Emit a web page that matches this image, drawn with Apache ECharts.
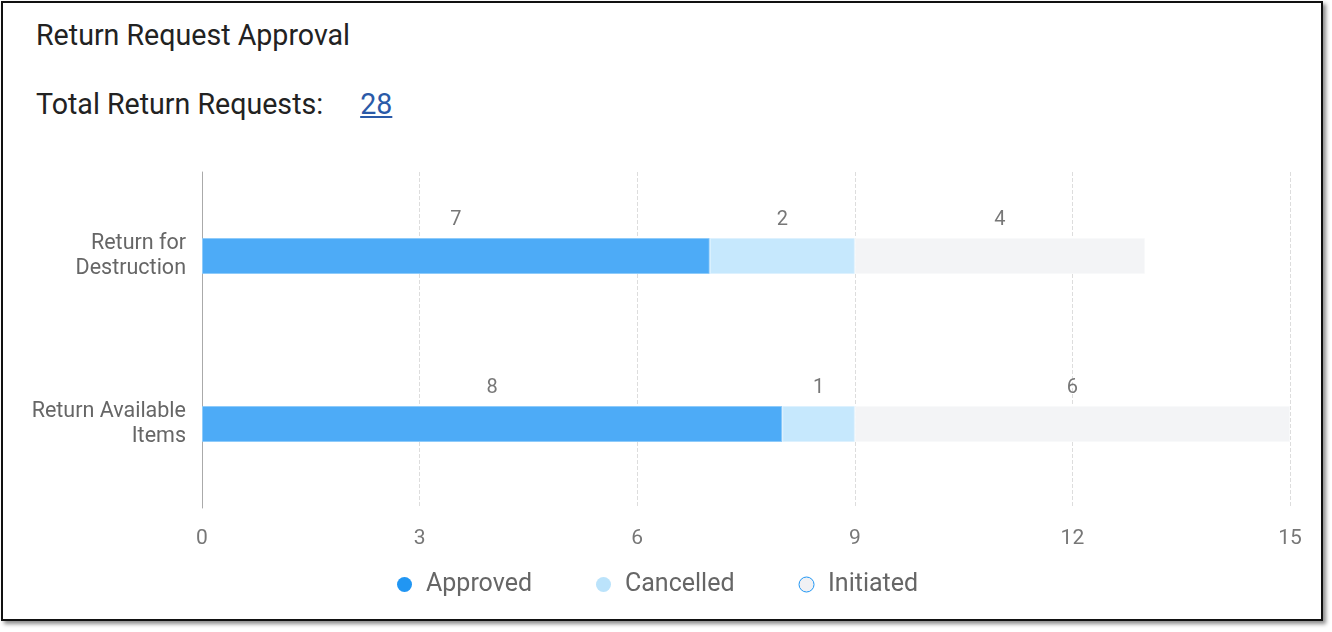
<!DOCTYPE html>
<html>
<head>
<meta charset="utf-8">
<script src="https://cdn.jsdelivr.net/npm/echarts@6/dist/echarts.min.js"></script>
<style>
  html, body { margin: 0; padding: 0; background: #fff; width: 1332px; height: 632px; overflow: hidden; font-family: Roboto, "Noto Sans", sans-serif; }
  .card { position: absolute; left: 1px; top: 1px; width: 1318px; height: 616px; border: 2px solid #111; background: #fff; box-shadow: 3px 3px 4px rgba(0,0,0,0.45); }
  .title { position: absolute; left: 33px; top: 15px; font-size: 28.6px; color: #222; }
  .total { position: absolute; left: 33px; top: 84px; font-size: 28.6px; color: #222; }
  .total a { color: #2a5aa8; text-decoration: underline; margin-left: 37px; }
  #chart { position: absolute; left: 0; top: 0; width: 1332px; height: 632px; }
</style>
</head>
<body>
<div class="card">
  <div class="title">Return Request Approval</div>
  <div class="total">Total Return Requests:<a>28</a></div>
</div>
<div id="chart"></div>
<script>
// data
const categories = ['Return for\nDestruction', 'Return Available\nItems']
const approved = [7, 8]
const cancelled = [2, 1]
const initiated = [4, 6]
const xTicks = { min: 0, max: 15, interval: 3 }

let myCharts = echarts.init(document.getElementById('chart'))

const labelStyle = { show: true, position: 'top', distance: 8, color: '#777', fontSize: 20, fontFamily: 'Roboto' }

function barSeries(name, data, color, edge) {
    return {
        name: name,
        type: 'bar',
        stack: 'total',
        data: data,
        barWidth: 36,
        itemStyle: { color: color, borderColor: edge, borderWidth: 1 },
        label: labelStyle,
        emphasis: { disabled: true }
    }
}

myCharts.setOption({
    animation: false,
    grid: { left: 202, right: 42, top: 172, bottom: 124, containLabel: false },
    xAxis: {
        type: 'value',
        min: xTicks.min,
        max: xTicks.max,
        interval: xTicks.interval,
        axisLine: { show: false },
        axisTick: { show: false },
        axisLabel: { color: '#777', fontSize: 21, fontFamily: 'Roboto', margin: 20 },
        splitLine: { show: true, lineStyle: { type: 'dashed', color: '#ddd', width: 1 } }
    },
    yAxis: {
        type: 'category',
        inverse: true,
        data: categories,
        axisLine: { show: true, lineStyle: { color: '#aaa', width: 1 } },
        axisTick: { show: false },
        axisLabel: { color: '#666', fontSize: 21.5, fontFamily: 'Roboto', lineHeight: 25, margin: 16, align: 'right' }
    },
    legend: {
        left: 392,
        top: 567,
        icon: 'circle',
        itemWidth: 15,
        itemHeight: 15,
        itemGap: 64,
        textStyle: { color: '#666', fontSize: 25, fontFamily: 'Roboto', padding: [0, 0, 0, 9] },
        data: [
            { name: 'Approved', itemStyle: { color: '#2196F3', borderWidth: 0 } },
            { name: 'Cancelled', itemStyle: { color: '#BBE3FB', borderWidth: 0 } },
            { name: 'Initiated', itemStyle: { color: '#F0F1F4', borderColor: '#2196F3', borderWidth: 1 } }
        ]
    },
    series: [
        barSeries('Approved', approved, '#4DABF7', '#8ECBFA'),
        barSeries('Cancelled', cancelled, '#C6E8FD', '#DDF1FE'),
        barSeries('Initiated', initiated, '#F3F4F6', '#F8F9FA')
    ]
})
</script>
</body>
</html>
